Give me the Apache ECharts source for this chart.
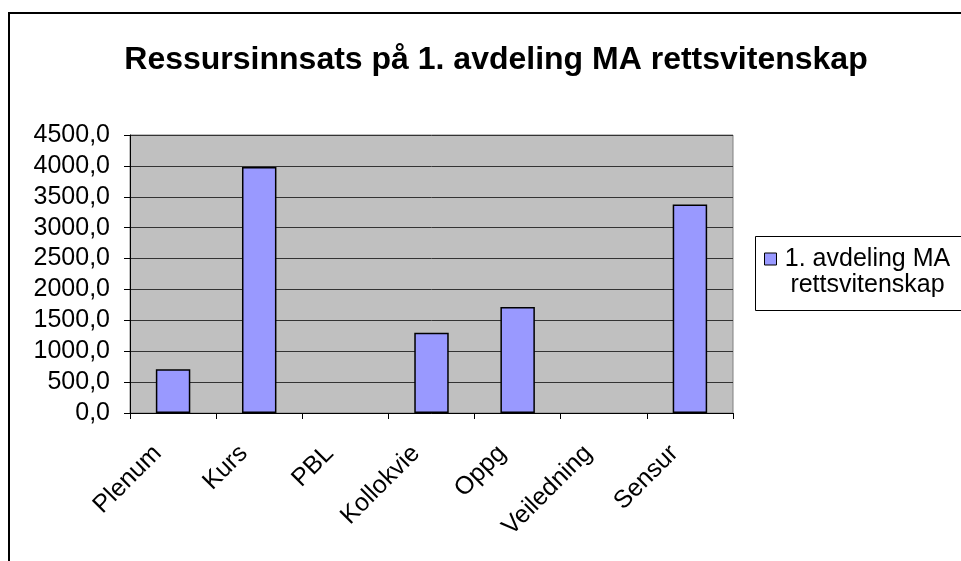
<!DOCTYPE html>
<html>
<head>
<meta charset="utf-8">
<script src="https://cdn.jsdelivr.net/npm/echarts@6/dist/echarts.min.js"></script>
<style>
html,body{margin:0;padding:0;background:#fff;}
#c{width:961px;height:561px;}
</style>
</head>
<body>
<div id="c"></div>
<script>
const titleText = 'Ressursinnsats på 1. avdeling MA rettsvitenskap';
const seriesName = '1. avdeling MA rettsvitenskap';
const categories = ['Plenum', 'Kurs', 'PBL', 'Kollokvie', 'Oppg', 'Veiledning', 'Sensur'];
const values = [710, 3980, 0, 1300, 1715, 0, 3375];
const yMin = 0, yMax = 4500, yStep = 500;

const FONT = "'Liberation Sans', Arial, sans-serif";
const chart = echarts.init(document.getElementById('c'), null, {renderer: 'canvas'});
chart.setOption({
  animation: false,
  backgroundColor: '#ffffff',
  title: {
    text: titleText,
    left: 491, top: 39, textAlign: 'center',
    textStyle: {fontFamily: FONT, fontWeight: 'bold', fontSize: 32, color: '#000'}
  },
  graphic: [
    {type: 'rect', shape: {x: 9, y: 13, width: 1000, height: 600},
     style: {fill: 'none', stroke: '#000', lineWidth: 2}, silent: true},
    {type: 'rect', shape: {x: 755.5, y: 236.5, width: 220, height: 74},
     style: {fill: '#fff', stroke: '#000', lineWidth: 1}, silent: true, z: 0}
  ],
  legend: {
    left: 764, top: 220, padding: 0, z: 5,
    itemWidth: 12, itemHeight: 12, itemGap: 0,
    icon: 'rect',
    itemStyle: {borderColor: '#000', borderWidth: 1},
    data: [seriesName],
    formatter: function () {
      return '{e|}\n{a|1. avdeling MA}\n{a|rettsvitenskap}';
    },
    textStyle: {
      fontFamily: FONT, fontSize: 25, color: '#000',
      rich: {
        e: {fontFamily: FONT, fontSize: 25, lineHeight: 26, height: 26},
        a: {fontFamily: FONT, fontSize: 25, lineHeight: 26, width: 172, align: 'center'}
      }
    }
  },
  grid: {
    left: 130, right: 228, top: 135, bottom: 148,
    show: true, backgroundColor: '#C0C0C0', borderColor: '#808080', borderWidth: 1
  },
  xAxis: {
    type: 'category', data: categories, boundaryGap: true,
    axisLine: {lineStyle: {color: '#000', width: 1}},
    axisTick: {show: true, interval: 0, length: 6, lineStyle: {color: '#000'}},
    axisLabel: {interval: 0, rotate: 45, margin: 21, padding: [0, 22, 0, 0],
      fontFamily: FONT, fontSize: 25, color: '#000'}
  },
  yAxis: {
    type: 'value', min: yMin, max: yMax, interval: yStep,
    axisLine: {show: true, lineStyle: {color: '#000', width: 1}},
    axisTick: {show: true, length: 6, lineStyle: {color: '#000'}},
    axisLabel: {margin: 20, fontFamily: FONT, fontSize: 25, color: '#000',
      formatter: v => v.toFixed(1).replace('.', ',')},
    splitLine: {show: true, lineStyle: {color: '#333', width: 1}}
  },
  series: [{
    name: seriesName, type: 'bar', barWidth: '40%',
    data: values.map(v => v === 0 ? {value: v, itemStyle: {borderWidth: 0}} : v),
    itemStyle: {color: '#9999FF', borderColor: '#000', borderWidth: 1.5}
  }]
});
</script>
</body>
</html>
